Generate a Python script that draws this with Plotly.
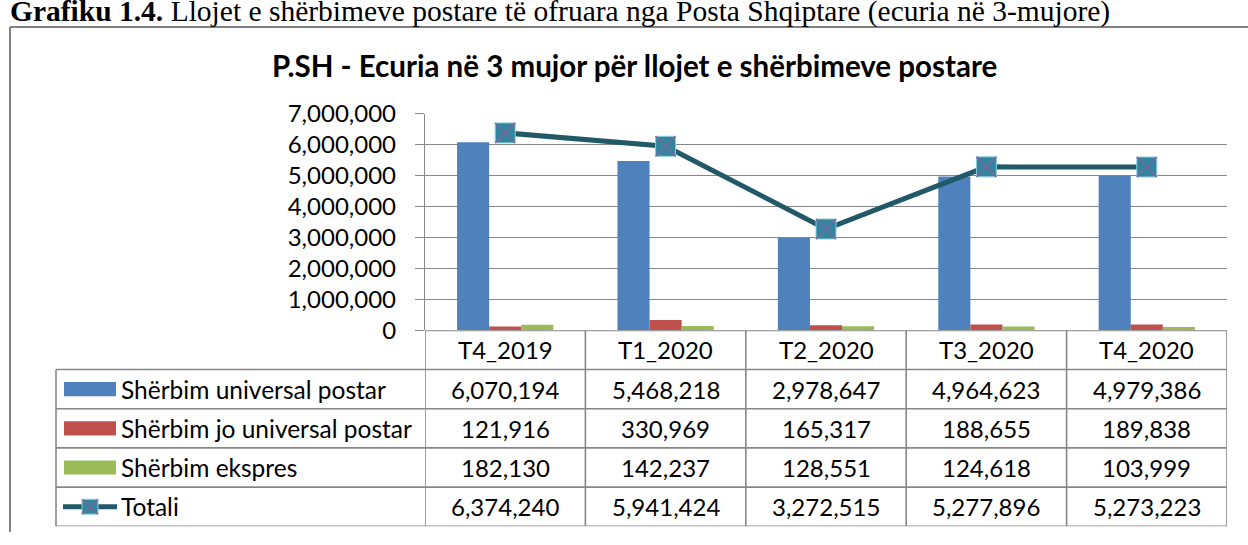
import plotly.graph_objects as go

# ---- data ----
categories = ["T4_2019", "T1_2020", "T2_2020", "T3_2020", "T4_2020"]
universal = [6070194, 5468218, 2978647, 4964623, 4979386]
jo_universal = [121916, 330969, 165317, 188655, 189838]
ekspres = [182130, 142237, 128551, 124618, 103999]
totali = [6374240, 5941424, 3272515, 5277896, 5273223]
series_names = ["Shërbim universal postar", "Shërbim jo universal postar", "Shërbim ekspres", "Totali"]
y_ticks = [0, 1000000, 2000000, 3000000, 4000000, 5000000, 6000000, 7000000]

title_text = "P.SH - Ecuria në 3 mujor për llojet e shërbimeve postare"
caption_bold = "Grafiku 1.4."
caption_rest = " Llojet e shërbimeve postare të ofruara nga Posta Shqiptare (ecuria në 3-mujore)"

# ---- style ----
W, H = 1248, 545
FONT = "Lato"
BLUE, RED, GREEN = "#4F81BD", "#C0504D", "#9BBB59"
LINE_C, MARK_C, X_C = "#215968", "#31859C", "#8064A2"
GRID = "#878787"
TXT = 24
LBL = 24.5


def px_x(p):
    return p / W


def px_y(p):
    return 1 - p / H


plot_left, plot_right = 425, 1227
plot_top, plot_bottom = 103, 332
table_bottom = 539
legend_left = 56

fig = go.Figure()
fig.add_bar(x=categories, y=universal, name=series_names[0], marker_color=BLUE, marker_line_width=0)
fig.add_bar(x=categories, y=jo_universal, name=series_names[1], marker_color=RED, marker_line_width=0)
fig.add_bar(x=categories, y=ekspres, name=series_names[2], marker_color=GREEN, marker_line_width=0)
fig.add_scatter(x=categories, y=totali, name=series_names[3], mode="lines+markers",
                line=dict(color=LINE_C, width=5),
                marker=dict(symbol="square", size=20, color=MARK_C, line=dict(color="#93CDDD", width=1)))
fig.add_scatter(x=categories, y=totali, mode="markers", showlegend=False, hoverinfo="skip",
                marker=dict(symbol="x-thin", size=20, line=dict(color=X_C, width=1.5)))

fig.update_layout(
    width=W, height=H, margin=dict(l=0, r=0, t=0, b=0),
    paper_bgcolor="white", plot_bgcolor="white",
    showlegend=False, barmode="group", bargap=0.4, bargroupgap=0,
    font=dict(family=FONT, size=TXT, color="black"),
    xaxis=dict(domain=[px_x(plot_left), px_x(plot_right)], type="category",
               range=[-0.5, 4.5], showticklabels=False, showgrid=False,
               showline=False, zeroline=False, ticks=""),
    yaxis=dict(domain=[px_y(plot_bottom), px_y(plot_top)], range=[0, 7000000],
               tickvals=y_ticks, tickformat=",d", showgrid=True, gridcolor=GRID, gridwidth=1.3,
               showline=True, linecolor=GRID, linewidth=1.3, ticks="outside", ticklen=9,
               tickcolor=GRID, tickwidth=1.3, zeroline=False, ticklabelstandoff=14,
               tickfont=dict(family=FONT, size=TXT)),
    yaxis2=dict(domain=[px_y(table_bottom), px_y(plot_bottom)], range=[5, 0],
                visible=False, anchor="x"),
)

shapes = []
anns = []
TL = dict(color=GRID, width=1.6)
# horizontal table lines
for r in range(1, 6):
    shapes.append(dict(type="line", xref="paper", yref="y2", x0=px_x(legend_left), x1=px_x(plot_right),
                       y0=r, y1=r, line=TL, layer="above"))
shapes.append(dict(type="line", xref="paper", yref="y2", x0=px_x(plot_left), x1=px_x(plot_right),
                   y0=0, y1=0, line=TL, layer="above"))
# vertical table lines
for i in range(6):
    shapes.append(dict(type="line", xref="x", yref="y2", x0=i - 0.5, x1=i - 0.5, y0=0, y1=5, line=TL, layer="above"))
shapes.append(dict(type="line", xref="paper", yref="y2", x0=px_x(legend_left), x1=px_x(legend_left),
                   y0=1, y1=5, line=TL))

# header row
for c in categories:
    anns.append(dict(x=c, y=0.5, xref="x", yref="y2", text=c, showarrow=False,
                     font=dict(size=TXT, family=FONT)))
# value rows
rows = [universal, jo_universal, ekspres, totali]
for r, vals in enumerate(rows):
    for c, v in zip(categories, vals):
        anns.append(dict(x=c, y=r + 1.5, xref="x", yref="y2", text=f"{v:,}", showarrow=False,
                         font=dict(size=TXT, family=FONT)))
    anns.append(dict(x=px_x(119), y=r + 1.5, xref="paper", yref="y2", text=series_names[r],
                     xanchor="left", showarrow=False, font=dict(size=LBL, family=FONT)))

# legend swatches
for r, col in enumerate([BLUE, RED, GREEN]):
    shapes.append(dict(type="rect", xref="paper", yref="y2", x0=px_x(64), x1=px_x(116),
                       y0=r + 1.5 - 0.18, y1=r + 1.5 + 0.18, fillcolor=col, line=dict(width=0)))
yc = 4.5
shapes.append(dict(type="line", xref="paper", yref="y2", x0=px_x(63), x1=px_x(117), y0=yc, y1=yc,
                   line=dict(color=LINE_C, width=5)))
shapes.append(dict(type="rect", xref="paper", yref="y2", x0=px_x(82), x1=px_x(98), y0=yc - 0.19, y1=yc + 0.19,
                   fillcolor=MARK_C, line=dict(color="#93CDDD", width=1)))
shapes.append(dict(type="line", xref="paper", yref="y2", x0=px_x(82), x1=px_x(98), y0=yc - 0.19, y1=yc + 0.19,
                   line=dict(color=X_C, width=1.3)))
shapes.append(dict(type="line", xref="paper", yref="y2", x0=px_x(82), x1=px_x(98), y0=yc + 0.19, y1=yc - 0.19,
                   line=dict(color=X_C, width=1.3)))

# outer frame (left and top edges only; the rest lies outside the picture)
FR = dict(color="#808080", width=2)
shapes.append(dict(type="line", xref="paper", yref="paper", x0=px_x(10), x1=px_x(10), y0=0, y1=px_y(11.5), line=FR))
shapes.append(dict(type="line", xref="paper", yref="paper", x0=px_x(10), x1=1, y0=px_y(11.5), y1=px_y(11.5), line=FR))

# title
anns.append(dict(x=px_x(634), y=px_y(52), xref="paper", yref="paper", xanchor="center", yanchor="middle",
                 text=f"<b>{title_text}</b>", showarrow=False,
                 font=dict(size=29.5, family=FONT, color="black")))
# cut-off caption
anns.append(dict(x=px_x(8), y=px_y(-5), xref="paper", yref="paper", xanchor="left", yanchor="middle",
                 text=f"<b>{caption_bold}</b>{caption_rest}", showarrow=False,
                 font=dict(size=29.5, family="Liberation Serif", color="black")))

fig.update_layout(shapes=shapes, annotations=anns)
fig.write_html("out.html", config={"displayModeBar": False},
               post_script="document.body.style.margin='0px';document.body.style.overflow='hidden';")
